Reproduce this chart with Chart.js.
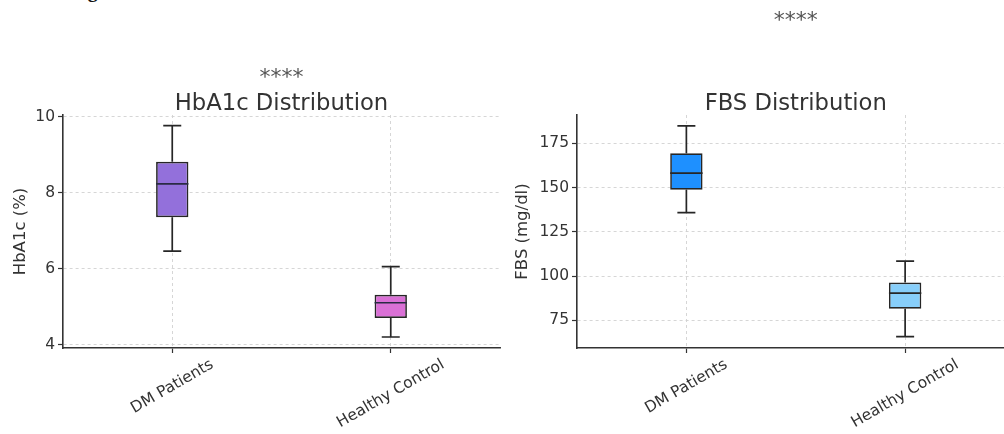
<!DOCTYPE html>
<html>
<head>
<meta charset="utf-8">
<script src="https://cdn.jsdelivr.net/npm/chart.js@4"></script>
<style>
  html, body { margin: 0; padding: 0; background: #fff; overflow: hidden; width: 1004px; height: 434px; }
  canvas { position: absolute; top: 0; }
  #hba1c { left: 0; }
  #fbs { left: 502px; }
  .fig { position: absolute; left: 70px; top: -20px; font: bold 20px "Liberation Serif"; line-height: 20px; color: #111; }
</style>
</head>
<body>
<div class="fig">Figure</div>
<canvas id="hba1c" width="502" height="434"></canvas>
<canvas id="fbs" width="520" height="434"></canvas>
<script>
// groups on the x axis
const categories = ["DM Patients", "Healthy Control"];

// HbA1c (%) box stats
const hba1cMin = [6.47, 4.21];
const hba1cQ1 = [7.36, 4.71];
const hba1cMedian = [8.24, 5.11];
const hba1cQ3 = [8.82, 5.32];
const hba1cMax = [9.77, 6.06];
const hba1cTicks = [4, 6, 8, 10];

// FBS (mg/dl) box stats
const fbsMin = [135.9, 65.8];
const fbsQ1 = [148.8, 81.6];
const fbsMedian = [158.2, 90.4];
const fbsQ3 = [169.4, 96.4];
const fbsMax = [184.9, 108.5];
const fbsTicks = [75, 100, 125, 150, 175];

const FONT = '"DejaVu Sans", sans-serif';

// whiskers, caps and median line on top of the floating bars
const boxPlot = {
  id: "boxPlot",
  afterDatasetsDraw(chart, args, opts) {
    const { ctx, scales: { y } } = chart;
    const meta = chart.getDatasetMeta(0);
    ctx.save();
    ctx.lineWidth = 1.7;
    meta.data.forEach((bar, i) => {
      const x = bar.x, half = bar.width / 2, cap = opts.cap / 2;
      const pMin = y.getPixelForValue(opts.min[i]);
      const pMax = y.getPixelForValue(opts.max[i]);
      const pQ1 = y.getPixelForValue(opts.q1[i]);
      const pQ3 = y.getPixelForValue(opts.q3[i]);
      const pMed = y.getPixelForValue(opts.median[i]);
      ctx.strokeStyle = "#262626";
      ctx.beginPath();
      ctx.moveTo(x, pQ3); ctx.lineTo(x, pMax);
      ctx.moveTo(x - cap, pMax); ctx.lineTo(x + cap, pMax);
      ctx.moveTo(x, pQ1); ctx.lineTo(x, pMin);
      ctx.moveTo(x - cap, pMin); ctx.lineTo(x + cap, pMin);
      ctx.stroke();
      ctx.strokeStyle = opts.medianColor;
      ctx.beginPath();
      ctx.moveTo(x - half, pMed); ctx.lineTo(x + half, pMed);
      ctx.stroke();
    });
    ctx.restore();
  }
};

// rotated category labels centred under their ticks, plus titles
const decor = {
  id: "decor",
  afterDraw(chart, args, opts) {
    const { ctx, scales: { x }, chartArea } = chart;
    const a = 30 * Math.PI / 180;
    ctx.save();
    ctx.font = "15.5px " + FONT;
    ctx.fillStyle = "#333";
    ctx.textAlign = "center";
    ctx.textBaseline = "middle";
    chart.data.labels.forEach((lab, i) => {
      const w = ctx.measureText(lab).width, h = 15;
      const cx = x.getPixelForValue(i);
      const cy = chartArea.bottom + 9 + (w * Math.sin(a) + h * Math.cos(a)) / 2;
      ctx.save();
      ctx.translate(cx, cy);
      ctx.rotate(-a);
      ctx.fillText(lab, 0, 0);
      ctx.restore();
    });
    const mid = (chartArea.left + chartArea.right) / 2;
    ctx.textBaseline = "alphabetic";
    ctx.font = "22.7px " + FONT;
    ctx.fillStyle = "#333";
    ctx.fillText(opts.title, mid, opts.titleY);
    ctx.font = "22px " + FONT;
    ctx.fillStyle = "#555";
    ctx.fillText("****", mid, opts.starsY);
    ctx.restore();
  }
};

const gridStyle = {
  color: "#d2d2d2",
  lineWidth: 0.9,
  drawTicks: true,
  tickLength: 5,
  tickColor: "#333",
  tickWidth: 1.2,
  tickBorderDash: [10, 0]
};

const makeBox = (id, cfg) => {
  new Chart(document.getElementById(id), {
    type: "bar",
    data: {
      labels: categories,
      datasets: [{
        data: cfg.q1.map((v, i) => [v, cfg.q3[i]]),
        backgroundColor: cfg.colors,
        borderColor: "#262626",
        borderWidth: 1.7,
        borderSkipped: false,
        barPercentage: 0.148,
        categoryPercentage: 1
      }]
    },
    options: {
      responsive: false,
      animation: false,
      layout: { padding: { top: 115, right: cfg.padRight, bottom: 0, left: 0 } },
      plugins: {
        legend: { display: false },
        tooltip: { enabled: false },
        boxPlot: { min: cfg.min, q1: cfg.q1, median: cfg.median, q3: cfg.q3, max: cfg.max, cap: 18, medianColor: cfg.medianColor },
        decor: { title: cfg.title, titleY: 109.5, starsY: cfg.starsY }
      },
      scales: {
        x: {
          offset: true,
          afterFit: s => { s.height = 86; },
          ticks: { display: false },
          border: { color: "#333", width: 1.6, dash: [3, 3] },
          grid: Object.assign({ offset: false }, gridStyle)
        },
        y: {
          min: cfg.yMin,
          max: cfg.yMax,
          afterFit: s => { s.width = cfg.yWidth; },
          afterBuildTicks: s => { s.ticks = cfg.ticks.map(v => ({ value: v })); },
          ticks: { color: "#333", font: { family: "DejaVu Sans", size: 15.5 }, padding: 3 },
          title: { display: true, text: cfg.yTitle, color: "#333", font: { family: "DejaVu Sans", size: 16.5 }, padding: { top: 11, bottom: 0 } },
          border: { color: "#333", width: 1.6, dash: [3, 3] },
          grid: gridStyle
        }
      }
    },
    plugins: [boxPlot, decor]
  });
};

makeBox("hba1c", {
  title: "HbA1c Distribution", yTitle: "HbA1c (%)",
  min: hba1cMin, q1: hba1cQ1, median: hba1cMedian, q3: hba1cQ3, max: hba1cMax,
  ticks: hba1cTicks, yMin: 3.92, yMax: 10.05,
  colors: ["#9370DB", "#DA70D6"], medianColor: "#2a2a44",
  yWidth: 63, padRight: 2, starsY: 84
});

makeBox("fbs", {
  title: "FBS Distribution", yTitle: "FBS (mg/dl)",
  min: fbsMin, q1: fbsQ1, median: fbsMedian, q3: fbsQ3, max: fbsMax,
  ticks: fbsTicks, yMin: 59.4, yMax: 191,
  colors: ["#1E90FF", "#87CEFA"], medianColor: "#262626",
  yWidth: 75, padRight: 7.5, starsY: 27
});
</script>
</body>
</html>
